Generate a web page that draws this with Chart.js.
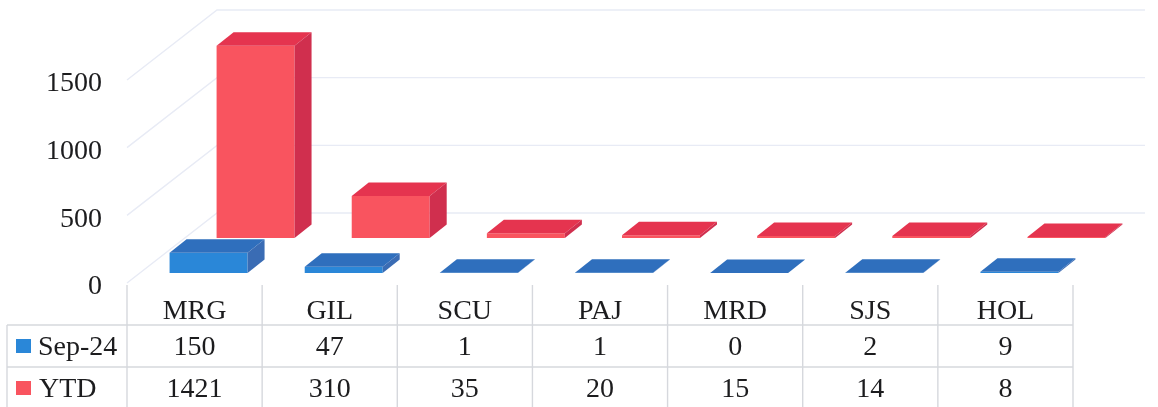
<!DOCTYPE html>
<html><head><meta charset="utf-8">
<style>html,body{margin:0;padding:0;background:#fff}#w{width:1158px;height:407px;overflow:hidden}canvas{display:block;filter:blur(0.45px)}</style>
<script src="https://cdn.jsdelivr.net/npm/chart.js@4"></script></head>
<body><div id="w"><canvas id="c" width="1158" height="407"></canvas></div>
<script>
const categories = ['MRG','GIL','SCU','PAJ','MRD','SJS','HOL'];
const sep24 = [150,47,1,1,0,2,9];
const ytd = [1421,310,35,20,15,14,8];
const seriesNames = ['Sep-24','YTD'];
const yTicks = [0,500,1000,1500];
const FONT = '28px "Liberation Serif"';
const TEXT = '#1c1c1e', GRID = '#e8ebf5', TABLE = '#d6d8dd';
const looks = [
 {front:'#2a87d8', top:'#2f6fbd', side:'#3a6cb4', dx:14, dy:-10},
 {front:'#f9545f', top:'#e5344f', side:'#d02f4e', dx:61, dy:-45}
];
const DEPTH = {x:17, y:-13.5};
const WALL = {x:90, y:-70, right:1145};

const threeD = {
 id:'threeD',
 beforeDatasetsDraw(chart){
  const y = chart.scales.y, c = chart.ctx;
  c.save(); c.strokeStyle = GRID; c.lineWidth = 1.4;
  for(const v of yTicks){
   const p = y.getPixelForValue(v), l = chart.chartArea.left;
   c.beginPath(); c.moveTo(l,p); c.lineTo(l+WALL.x,p+WALL.y); c.lineTo(WALL.right,p+WALL.y); c.stroke();
  }
  c.restore();
 },
 beforeDatasetDraw(chart,args){
  const c = chart.ctx, k = looks[args.index];
  c.save(); c.translate(k.dx,k.dy);
 },
 afterDatasetDraw(chart,args){
  const c = chart.ctx, k = looks[args.index];
  for(const el of args.meta.data){
   const b = el.getProps(['x','y','base','width'],true);
   const l = b.x-b.width/2, r = b.x+b.width/2;
   c.fillStyle = k.top; c.beginPath();
   c.moveTo(l,b.y); c.lineTo(r,b.y); c.lineTo(r+DEPTH.x,b.y+DEPTH.y); c.lineTo(l+DEPTH.x,b.y+DEPTH.y); c.closePath(); c.fill();
   c.fillStyle = k.side; c.beginPath();
   c.moveTo(r,b.y); c.lineTo(r+DEPTH.x,b.y+DEPTH.y); c.lineTo(r+DEPTH.x,b.base+DEPTH.y); c.lineTo(r,b.base); c.closePath(); c.fill();
  }
  c.restore();
 },
 afterDraw(chart){
  const c = chart.ctx, x = chart.scales.x, a = chart.chartArea;
  const half = (x.getPixelForTick(1)-x.getPixelForTick(0))/2;
  const rows = [{v:sep24,y:348},{v:ytd,y:390}];
  c.save();
  c.strokeStyle = TABLE; c.lineWidth = 1.4;
  const ln=(x1,y1,x2,y2)=>{c.beginPath();c.moveTo(x1,y1);c.lineTo(x2,y2);c.stroke();};
  categories.forEach((_,i)=>ln(x.getPixelForTick(i)-half,285,x.getPixelForTick(i)-half,407));
  ln(a.right,285,a.right,407);
  ln(7,325,7,407);
  ln(7,325,a.right,325); ln(7,367,a.right,367);
  c.font = FONT; c.textBaseline = 'middle';
  rows.forEach((row,ri)=>{
   c.fillStyle = looks[ri].front; c.fillRect(16,row.y-9,15,14);
   c.fillStyle = TEXT; c.textAlign = 'left';
   c.fillText(seriesNames[ri],ri?39:38,row.y);
   c.textAlign = 'center';
   row.v.forEach((v,i)=>c.fillText(String(v),x.getPixelForTick(i),row.y));
  });
  c.restore();
 }
};

new Chart(document.getElementById('c'),{
 type:'bar',
 data:{labels:categories,datasets:[
  {label:seriesNames[0],data:sep24,backgroundColor:looks[0].front},
  {label:seriesNames[1],data:ytd,backgroundColor:looks[1].front}
 ]},
 plugins:[threeD],
 options:{
  responsive:false,animation:false,
  layout:{padding:{top:80,right:85,left:0,bottom:0}},
  datasets:{bar:{grouped:false,barPercentage:0.577,categoryPercentage:1,borderWidth:0}},
  plugins:{legend:{display:false},tooltip:{enabled:false},title:{display:false}},
  scales:{
   x:{grid:{display:false},border:{display:false},
      afterFit(s){s.height=124;},
      ticks:{font:{family:'Liberation Serif',size:28},color:TEXT,padding:4,maxRotation:0,autoSkip:false}},
   y:{min:0,max:1500,grid:{display:false},border:{display:false},
      afterFit(s){s.width=127;},
      afterBuildTicks(s){s.ticks=yTicks.map(v=>({value:v}));},
      ticks:{font:{family:'Liberation Serif',size:28},color:TEXT,padding:17,labelOffset:4,callback:v=>String(v)}}
  }
 }
});
</script></body></html>
